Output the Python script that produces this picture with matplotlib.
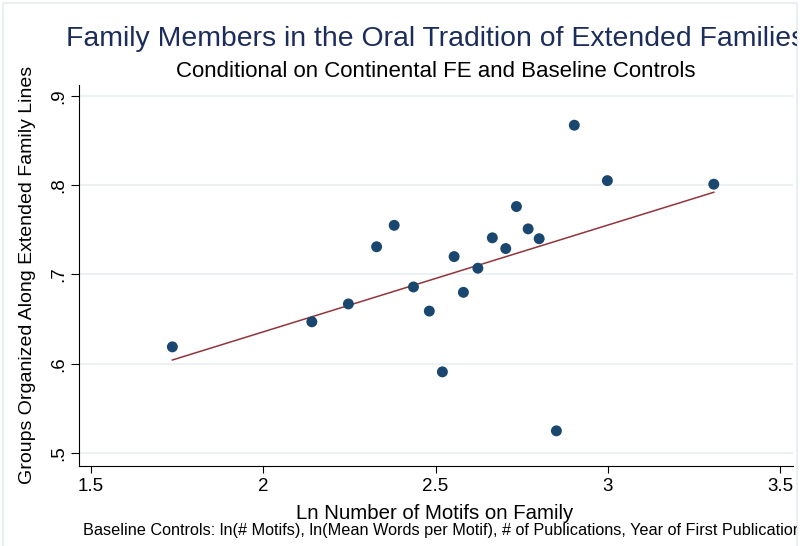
import numpy as np
import matplotlib.pyplot as plt
from matplotlib.patches import Rectangle
from matplotlib.transforms import Bbox, TransformedBbox

plt.rcParams['font.family'] = ['Liberation Sans', 'DejaVu Sans']

# ln number of motifs on family (residualised), share of groups along extended family lines
ln_motifs = [1.736, 2.141, 2.247, 2.329, 2.380, 2.436, 2.482, 2.520, 2.554, 2.581,
             2.623, 2.665, 2.704, 2.735, 2.769, 2.801, 2.851, 2.903, 2.999, 3.308]
ext_family = [0.619, 0.647, 0.667, 0.731, 0.755, 0.686, 0.659, 0.591, 0.720, 0.680,
              0.707, 0.741, 0.729, 0.776, 0.751, 0.740, 0.525, 0.867, 0.805, 0.801]

# fitted line
fit_intercept = 0.397
fit_slope = 0.1194

x_ticks = [1.5, 2, 2.5, 3, 3.5]
x_ticklabels = ['1.5', '2', '2.5', '3', '3.5']
y_ticks = [0.5, 0.6, 0.7, 0.8, 0.9]
y_ticklabels = ['.5', '.6', '.7', '.8', '.9']

W, H = 806, 546
fig = plt.figure(figsize=(W / 100, H / 100), dpi=100)

def fx(px):
    return px / W

def fy(py):
    return 1 - py / H

# outer graph border (light)
fig.patches.append(Rectangle((fx(3), fy(560)), fx(797) - fx(3), fy(3) - fy(560),
                             transform=fig.transFigure, fill=False,
                             edgecolor='#e6edf0', linewidth=1.2))

ax = fig.add_axes([fx(78.7), fy(465.7), fx(793) - fx(78.7), fy(85) - fy(465.7)])

x = np.array(ln_motifs)
y = np.array(ext_family)

ax.scatter(x, y, s=62, color='#1a476f', edgecolors='none', zorder=3)

xx = np.array([x.min(), x.max()])
ax.plot(xx, fit_intercept + fit_slope * xx, color='#90353b', linewidth=1.1, zorder=2)

ax.set_xlim(1.464, 3.538)
ax.set_ylim(0.486, 0.912)
ax.set_xticks(x_ticks)
ax.set_xticklabels(x_ticklabels)
ax.set_yticks(y_ticks)
ax.set_yticklabels(y_ticklabels, rotation=90, va='center')

ax.grid(axis='y', color='#eaf0f2', linewidth=1.3)
ax.set_axisbelow(True)
for s in ['top', 'right']:
    ax.spines[s].set_visible(False)
for s in ['left', 'bottom']:
    ax.spines[s].set_color('black')
    ax.spines[s].set_linewidth(0.8)

ax.tick_params(axis='x', length=5, width=0.8, pad=4, labelsize=13.5, color='black')
ax.tick_params(axis='y', length=5.5, width=0.8, pad=3, labelsize=13.5, color='black')

# the reference graph is cropped on the right, so title and note run off it
clip = TransformedBbox(Bbox.from_extents(0, 0, fx(797), 1), fig.transFigure)

t = fig.text(fx(436), fy(46), 'Family Members in the Oral Tradition of Extended Families',
             ha='center', va='baseline', fontsize=20.4, color='#1c2d5c')
t.set_clip_box(clip)
t.set_clip_on(True)

fig.text(fx(436), fy(77), 'Conditional on Continental FE and Baseline Controls',
         ha='center', va='baseline', fontsize=16, color='black')

fig.text(fx(28), fy(275), 'Groups Organized Along Extended Family Lines',
         ha='center', va='center', rotation=90, fontsize=14, color='black')

fig.text(fx(435), fy(519), 'Ln Number of Motifs on Family',
         ha='center', va='baseline', fontsize=14.7, color='black')

n = fig.text(fx(83), fy(535),
             'Baseline Controls: ln(# Motifs), ln(Mean Words per Motif), '
             '# of Publications, Year of First Publication',
             ha='left', va='baseline', fontsize=11.7, color='black')
n.set_clip_box(clip)
n.set_clip_on(True)

fig.savefig('out.png', dpi=100)
